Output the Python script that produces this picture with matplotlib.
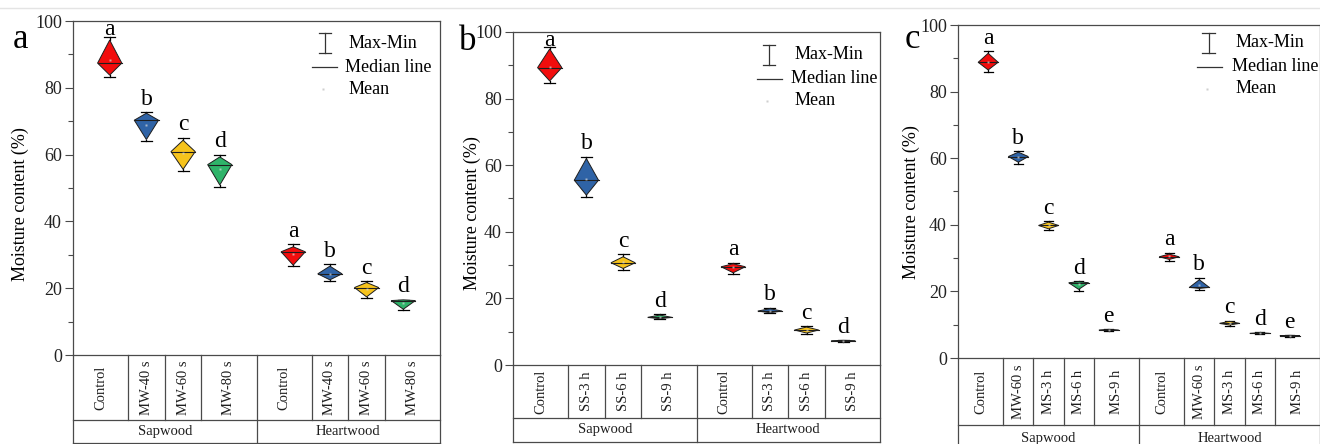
import matplotlib
matplotlib.use("Agg")
import matplotlib.pyplot as plt
from matplotlib.lines import Line2D
from matplotlib.patches import Polygon

plt.rcParams['font.family'] = ['Liberation Serif', 'DejaVu Serif']

# ---- data ----
groups = ["Sapwood", "Heartwood"]

a_labels = ["Control", "MW-40 s", "MW-60 s", "MW-80 s", "Control", "MW-40 s", "MW-60 s", "MW-80 s"]
a_max = [95.2, 72.8, 65.1, 60.0, 33.1, 27.1, 22.2, 16.6]
a_q3 = [94.3, 72.4, 64.3, 59.3, 32.4, 26.6, 21.7, 16.5]
a_med = [87.4, 70.3, 60.9, 57.0, 30.9, 24.3, 20.2, 16.3]
a_q1 = [83.8, 64.5, 55.6, 50.9, 26.9, 22.5, 17.4, 13.7]
a_min = [83.2, 64.1, 55.1, 50.2, 26.6, 22.1, 17.2, 13.5]
a_mean = [88.3, 69.0, 60.4, 55.8, 30.2, 24.4, 19.9, 15.5]
a_letters = ["a", "b", "c", "d", "a", "b", "c", "d"]

b_labels = ["Control", "SS-3 h", "SS-6 h", "SS-9 h", "Control", "SS-3 h", "SS-6 h", "SS-9 h"]
b_max = [95.4, 62.6, 33.2, 15.2, 30.7, 17.2, 11.7, 7.5]
b_q3 = [94.9, 62.0, 32.5, 15.0, 30.4, 16.9, 11.4, 7.4]
b_med = [89.3, 55.5, 30.7, 14.3, 29.5, 16.2, 10.5, 7.3]
b_q1 = [85.3, 51.0, 29.0, 13.9, 27.7, 15.7, 9.6, 7.1]
b_min = [84.7, 50.5, 28.5, 13.7, 27.3, 15.5, 9.3, 7.0]
b_mean = [89.5, 56.0, 30.8, 14.4, 29.3, 16.3, 10.6, 7.3]
b_letters = ["a", "b", "c", "d", "a", "b", "c", "d"]

c_labels = ["Control", "MW-60 s", "MS-3 h", "MS-6 h", "MS-9 h",
            "Control", "MW-60 s", "MS-3 h", "MS-6 h", "MS-9 h"]
c_max = [92.2, 62.2, 41.1, 23.1, 8.7, 31.6, 24.1, 11.2, 7.7, 6.9]
c_q3 = [91.5, 61.8, 40.8, 22.9, 8.6, 31.2, 23.5, 11.0, 7.6, 6.8]
c_med = [88.8, 60.5, 39.8, 22.6, 8.4, 30.4, 21.2, 10.4, 7.4, 6.7]
c_q1 = [86.5, 58.8, 38.8, 20.6, 8.3, 29.6, 20.9, 9.9, 7.3, 6.6]
c_min = [85.8, 58.3, 38.4, 20.1, 8.2, 29.2, 20.4, 9.6, 7.2, 6.4]
c_mean = [88.9, 60.4, 39.9, 22.2, 8.4, 30.5, 21.9, 10.5, 7.4, 6.7]
c_letters = ["a", "b", "c", "d", "e", "a", "b", "c", "d", "e"]

# ---- styles ----
box_colors = ['#f20d0d', '#2f63a6', '#f6c31c', '#2fb46a', '#1a1a1a']
line_col = '#4a4a4a'


def draw_panel(ax, labels, mx, q3, med, q1, mn, mean, letters, row1, row2, leg):
    n = len(labels) // 2
    pos = list(range(1, n + 1)) + list(range(n + 2, 2 * n + 2))
    xmax = 2 * n + 2
    half = 0.33
    for i, x in enumerate(pos):
        col = box_colors[i % n]
        # whiskers (max-min)
        ax.plot([x, x], [q3[i], mx[i]], color='k', lw=0.9, zorder=2)
        ax.plot([x, x], [q1[i], mn[i]], color='k', lw=0.9, zorder=2)
        ax.plot([x - 0.15, x + 0.15], [mx[i], mx[i]], color='k', lw=0.9, zorder=2)
        ax.plot([x - 0.15, x + 0.15], [mn[i], mn[i]], color='k', lw=0.9, zorder=2)
        # diamond box
        poly = Polygon([(x, q3[i]), (x + half, med[i]), (x, q1[i]), (x - half, med[i])],
                       closed=True, facecolor=col, edgecolor='#1e1e1e', lw=0.7, zorder=3)
        ax.add_patch(poly)
        ax.plot([x - half, x + half], [med[i], med[i]], color='#1e1e1e', lw=0.8, zorder=4)
        ax.plot(x, mean[i], 's', ms=2, color='#d8d8d8', mec='none', alpha=0.7, zorder=5)
        ax.text(x, min(mx[i] + 2.2, 95.8), letters[i], ha='center', va='baseline',
                fontsize=17, zorder=6)

    ax.set_xlim(0, xmax)
    ax.set_ylim(0, 100)
    ax.set_xticks([])
    ax.set_yticks(range(0, 101, 20))
    ax.set_yticks(range(10, 100, 20), minor=True)
    ax.tick_params(axis='y', which='major', direction='out', length=6, width=0.8,
                   labelsize=13, pad=2, colors=line_col, labelcolor='#222222')
    ax.tick_params(axis='y', which='minor', direction='out', length=3.5, width=0.8,
                   colors=line_col)
    for sp in ax.spines.values():
        sp.set_color(line_col)
        sp.set_linewidth(0.9)

    # category table under the axis
    tr = ax.get_xaxis_transform()
    kw = dict(transform=tr, clip_on=False, color=line_col, lw=0.9)
    ax.plot([0, 0], [0, -row2], **kw)
    ax.plot([xmax, xmax], [0, -row2], **kw)
    ax.plot([n + 1, n + 1], [0, -row2], **kw)
    ax.plot([0, xmax], [-row1, -row1], **kw)
    ax.plot([0, xmax], [-row2, -row2], **kw)
    sap_edges = [0] + [k + 0.5 for k in range(1, n)] + [n + 1]
    heart_edges = [n + 1] + [k + 0.5 for k in range(n + 2, 2 * n + 1)] + [xmax]
    edges = sap_edges[:-1] + heart_edges
    for e in sap_edges[1:-1] + heart_edges[1:-1]:
        ax.plot([e, e], [0, -row1], **kw)
    for i in range(len(labels)):
        xc = (edges[i] + edges[i + 1]) / 2
        ax.text(xc, -row1 / 2, labels[i], transform=tr, rotation=90, ha='center',
                va='center', fontsize=10.5, color='#1e1e1e')
    ax.text((n + 1) / 2, -(row1 + row2) / 2, groups[0], transform=tr, ha='center',
            va='center', fontsize=10.5, color='#1e1e1e')
    ax.text((n + 1 + xmax) / 2, -(row1 + row2) / 2, groups[1], transform=tr, ha='center',
            va='center', fontsize=10.5, color='#1e1e1e')

    # legend drawn by hand (Origin style)
    lx, ly, ix, m0 = leg
    at = ax.transAxes
    ax.plot([ix, ix], [ly - 0.03, ly + 0.03], transform=at, color='#333333', lw=0.9)
    ax.plot([ix - 0.017, ix + 0.017], [ly + 0.03, ly + 0.03], transform=at, color='#333333', lw=0.9)
    ax.plot([ix - 0.017, ix + 0.017], [ly - 0.03, ly - 0.03], transform=at, color='#333333', lw=0.9)
    ax.text(lx, ly, "Max-Min", transform=at, va='center', ha='left', fontsize=13)
    ax.plot([m0, m0 + 0.068], [ly - 0.072, ly - 0.072], transform=at, color='#333333', lw=0.9)
    ax.text(lx - 0.01, ly - 0.072, "Median line", transform=at, va='center', ha='left', fontsize=13)
    ax.plot(ix - 0.005, ly - 0.138, 's', ms=2, color='#cfcfcf', mec='none', transform=at)
    ax.text(lx, ly - 0.138, "Mean", transform=at, va='center', ha='left', fontsize=13)


fig = plt.figure(figsize=(13.2, 4.44), dpi=100)
W, H = 1320.0, 444.0

ax_a = fig.add_axes([73 / W, 1 - 355 / H, 367 / W, 334 / H])
ax_b = fig.add_axes([513 / W, 1 - 365 / H, 367 / W, 333 / H])
ax_c = fig.add_axes([958 / W, 1 - 358 / H, 362 / W, 333 / H])

draw_panel(ax_a, a_labels, a_max, a_q3, a_med, a_q1, a_min, a_mean, a_letters,
           0.195, 0.263, (0.75, 0.934, 0.687, 0.651))
draw_panel(ax_b, b_labels, b_max, b_q3, b_med, b_q1, b_min, b_mean, b_letters,
           0.159, 0.231, (0.767, 0.931, 0.698, 0.665))
draw_panel(ax_c, c_labels, c_max, c_q3, c_med, c_q1, c_min, c_mean, c_letters,
           0.201, 0.28, (0.766, 0.946, 0.692, 0.66))

# y labels
ax_a.text(-0.144, 0.452, "Moisture content (%)", transform=ax_a.transAxes, rotation=90,
          ha='center', va='center', fontsize=13)
ax_b.text(-0.112, 0.456, "Moisture content (%)", transform=ax_b.transAxes, rotation=90,
          ha='center', va='center', fontsize=13)
ax_c.text(-0.129, 0.468, "Moisture content (%)", transform=ax_c.transAxes, rotation=90,
          ha='center', va='center', fontsize=13)

# panel letters
fig.text(20 / W, 1 - 48 / H, "a", ha='center', va='baseline', fontsize=25)
fig.text(468 / W, 1 - 50 / H, "b", ha='center', va='baseline', fontsize=25)
fig.text(912 / W, 1 - 48 / H, "c", ha='center', va='baseline', fontsize=25)

# faint line along the top of the screenshot
fig.add_artist(Line2D([0, 1], [1 - 8 / H, 1 - 8 / H], color='#e4e4e4', lw=1))

plt.savefig("out.png", dpi=100)
